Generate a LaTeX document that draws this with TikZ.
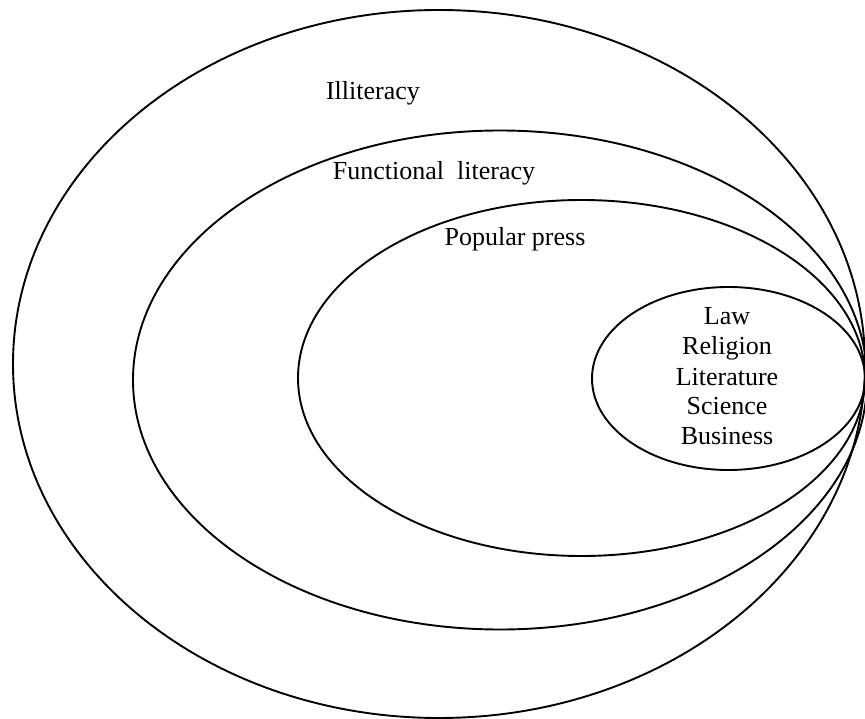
\documentclass[tikz,border=0pt]{standalone}
\usepackage{fontspec}
\setmainfont{Liberation Serif}
\usetikzlibrary{shapes.geometric}
\begin{document}
\begin{tikzpicture}[x=1pt,y=-1pt,
  ring/.style={draw=black, line width=1.9pt, ellipse, inner sep=0pt, outer sep=0pt},
  lbl/.style={inner sep=0pt, anchor=base, font=\fontsize{26}{30}\selectfont}]
\useasboundingbox[fill=white] (0,0) rectangle (865,719);
\node[ring, minimum width=852pt, minimum height=708pt] (e1) at (439,364) {};
\node[ring, minimum width=734pt, minimum height=499pt] (e2) at (500,380) {};
\node[ring, minimum width=567pt, minimum height=356pt] (e3) at (581.5,378) {};
\node[ring, minimum width=273pt, minimum height=183pt] (e4) at (728.5,378.5) {};
\node[lbl] (t1) at (373,100) {Illiteracy};
\node[lbl] (t2) at (434,180) {Functional\ \ literacy};
\node[lbl] (t3) at (515,246) {Popular press};
\node[lbl] (l1) at (727,325) {Law};
\node[lbl] (l2) at (727,355) {Religion};
\node[lbl] (l3) at (727,385) {Literature};
\node[lbl] (l4) at (727,414) {Science};
\node[lbl] (l5) at (727,444) {Business};
\end{tikzpicture}
\end{document}
